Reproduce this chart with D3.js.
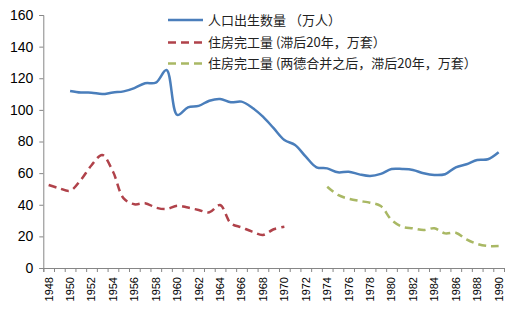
<!DOCTYPE html>
<html><head><meta charset="utf-8">
<script src="https://cdn.jsdelivr.net/npm/d3@7"></script>
<style>
html,body{margin:0;padding:0;background:#fff;}
svg{display:block;}
</style></head>
<body>
<svg id="chart" width="525" height="324"></svg>
<script>
// ---- data ----
const years = d3.range(1948, 1991);
const birthYears = d3.range(1950, 1991);
const births = [112,111,110.9,110,111,111.7,113.8,116.8,117.2,125.2,96.8,101.6,102.5,105.8,106.9,104.8,105.2,101.4,95.7,88.4,81,77.8,70.4,63.7,63,60.5,60.9,59.2,58.2,59.5,62.6,62.6,62,59.9,58.8,59.3,63.7,65.6,68.3,68.8,73.2];
const houseYears = d3.range(1948, 1971);
const housing = [52.5,50.4,48.9,55.7,65,71.5,61,44,40.3,41,38.2,37.3,39.4,38.2,36.7,35.2,39.8,28.3,25.7,23,20.9,24.5,26.1];
const unifiedYears = d3.range(1974, 1991);
const housingUnified = [51.4,46.2,43.8,42.4,41.3,39.2,30.4,26.1,25.1,24,25.1,21.9,22.3,18.1,15.2,13.9,13.9];
const yTicks = [0,20,40,60,80,100,120,140,160];
const seriesNames = ["人口出生数量 （万人）","住房完工量 (滞后20年，万套）","住房完工量 (两德合并之后，滞后20年，万套）"];
const colors = ["#4A7EBB","#B0424A","#A9B864"];

// ---- layout ----
const svg = d3.select("#chart");
const x = d3.scaleLinear().domain([1947.5, 1990.5]).range([43.3, 504]);
const y = d3.scaleLinear().domain([0, 160]).range([268, 15]);
const axisColor = "#868686";
const font = "'Liberation Sans', Arial, sans-serif";

// y axis
const gy = svg.append("g").attr("transform","translate(43.3,0)")
  .call(d3.axisLeft(y).tickValues(yTicks).tickSize(4).tickPadding(6));
gy.select(".domain").attr("stroke",axisColor);
gy.selectAll(".tick line").attr("stroke",axisColor);
gy.selectAll(".tick text").attr("font-family",font).attr("font-size",14).attr("fill","#000");

// x axis (ticks at category boundaries)
const gx = svg.append("g").attr("transform","translate(0,268)")
  .call(d3.axisBottom(x).tickValues(d3.range(1947.5, 1991, 1)).tickSize(4).tickFormat(""));
gx.select(".domain").attr("stroke",axisColor);
gx.selectAll(".tick line").attr("stroke",axisColor);

// x labels every 2 years, rotated
svg.append("g").selectAll("text")
  .data(years.filter(d => (d - 1948) % 2 === 0))
  .join("text")
  .attr("transform", d => `translate(${x(d)},277) rotate(-90)`)
  .attr("text-anchor","end")
  .attr("dy","0.35em")
  .attr("font-family",font).attr("font-size",11).attr("fill","#000")
  .text(d => d);

// lines
const line = d3.line().x(d => x(d[0])).y(d => y(d[1])).curve(d3.curveCatmullRom.alpha(0.5));
svg.append("path").datum(d3.zip(birthYears, births))
  .attr("d", line).attr("fill","none").attr("stroke",colors[0]).attr("stroke-width",2.5);
svg.append("path").datum(d3.zip(houseYears, housing))
  .attr("d", line).attr("fill","none").attr("stroke",colors[1]).attr("stroke-width",2.5)
  .attr("stroke-dasharray","8,5");
svg.append("path").datum(d3.zip(unifiedYears, housingUnified))
  .attr("d", line).attr("fill","none").attr("stroke",colors[2]).attr("stroke-width",2.5)
  .attr("stroke-dasharray","8,5");

// legend
const lg = svg.append("g");
const rows = [20, 42.5, 63.5];
seriesNames.forEach((name, i) => {
  lg.append("line").attr("x1",168).attr("x2",203).attr("y1",rows[i]).attr("y2",rows[i])
    .attr("stroke",colors[i]).attr("stroke-width",2.5)
    .attr("stroke-dasharray", i === 0 ? null : "8,5");
  lg.append("text").attr("x",208).attr("y",rows[i]).attr("dy","0.35em")
    .attr("font-family","'Noto Sans CJK SC', sans-serif").attr("font-size",13).attr("fill","#222")
    .text(name);
});
</script>
</body></html>
